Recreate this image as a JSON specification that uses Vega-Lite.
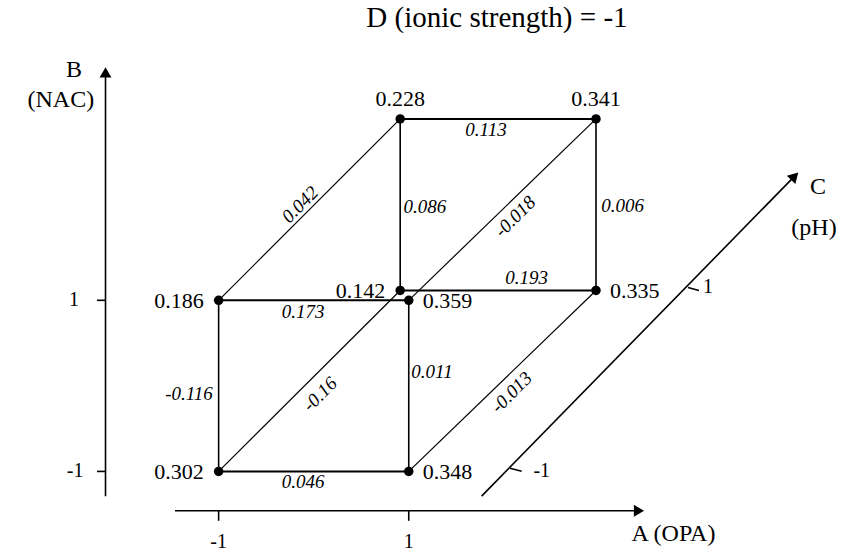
{
  "$schema": "https://vega.github.io/schema/vega-lite/v6.json",
  "width": 846,
  "height": 552,
  "padding": 0,
  "autosize": {"type": "fit", "contains": "padding"},
  "background": "white",
  "config": {"view": {"stroke": null}, "font": "'Liberation Serif', 'Times New Roman', serif"},
  "datasets": {
    "vertices": [
      {"A": -1, "B": -1, "C": -1, "u": -1, "v": -1, "response": "0.302"},
      {"A": 1, "B": -1, "C": -1, "u": 1, "v": -1, "response": "0.348"},
      {"A": -1, "B": 1, "C": -1, "u": -1, "v": 1, "response": "0.186"},
      {"A": 1, "B": 1, "C": -1, "u": 1, "v": 1, "response": "0.359"},
      {"A": -1, "B": -1, "C": 1, "u": 0.91, "v": 1.115, "response": "0.142"},
      {"A": 1, "B": -1, "C": 1, "u": 2.97, "v": 1.115, "response": "0.335"},
      {"A": -1, "B": 1, "C": 1, "u": 0.91, "v": 3.12, "response": "0.228"},
      {"A": 1, "B": 1, "C": 1, "u": 2.97, "v": 3.12, "response": "0.341"}
    ],
    "edges": [
      {"factor": "A", "u1": -1, "v1": -1, "u2": 1, "v2": -1, "effect": "0.046", "lu": -0.112, "lv": -1.125},
      {"factor": "A", "u1": -1, "v1": 1, "u2": 1, "v2": 1, "effect": "0.173", "lu": -0.112, "lv": 0.858},
      {"factor": "A", "u1": 0.91, "v1": 1.115, "u2": 2.97, "v2": 1.115, "effect": "0.193", "lu": 2.241, "lv": 1.263},
      {"factor": "A", "u1": 0.91, "v1": 3.12, "u2": 2.97, "v2": 3.12, "effect": "0.113", "lu": 1.813, "lv": 2.993},
      {"factor": "B", "u1": -1, "v1": -1, "u2": -1, "v2": 1, "effect": "-0.116", "lu": -1.312, "lv": -0.099},
      {"factor": "B", "u1": 1, "v1": -1, "u2": 1, "v2": 1, "effect": "0.011", "lu": 1.245, "lv": 0.158},
      {"factor": "B", "u1": 0.91, "v1": 1.115, "u2": 0.91, "v2": 3.12, "effect": "0.086", "lu": 1.171, "lv": 2.095},
      {"factor": "B", "u1": 2.97, "v1": 1.115, "u2": 2.97, "v2": 3.12, "effect": "0.006", "lu": 3.251, "lv": 2.098},
      {"factor": "C", "u1": -1, "v1": -1, "u2": 0.91, "v2": 1.115, "effect": "-0.16", "lu": 0.066, "lv": -0.099},
      {"factor": "C", "u1": 1, "v1": -1, "u2": 2.97, "v2": 1.115, "effect": "-0.013", "lu": 2.083, "lv": -0.075},
      {"factor": "C", "u1": -1, "v1": 1, "u2": 0.91, "v2": 3.12, "effect": "0.042", "lu": -0.144, "lv": 2.118},
      {"factor": "C", "u1": 1, "v1": 1, "u2": 2.97, "v2": 3.12, "effect": "-0.018", "lu": 2.118, "lv": 1.978}
    ],
    "axislines": [
      {"part": "B axis", "u1": -2.19, "v1": -1.289, "u2": -2.19, "v2": 3.635},
      {"part": "A axis", "u1": -1.459, "v1": -1.46, "u2": 3.39, "v2": -1.46},
      {"part": "C axis", "u1": 1.767, "v1": -1.289, "u2": 5.06, "v2": 2.452},
      {"part": "B tick 1", "u1": -2.28, "v1": 1, "u2": -2.19, "v2": 1},
      {"part": "B tick -1", "u1": -2.28, "v1": -1, "u2": -2.19, "v2": -1},
      {"part": "A tick -1", "u1": -1, "v1": -1.46, "u2": -1, "v2": -1.577},
      {"part": "A tick 1", "u1": 1, "v1": -1.46, "u2": 1, "v2": -1.577},
      {"part": "C tick -1", "u1": 2.065, "v1": -0.962, "u2": 2.188, "v2": -0.997},
      {"part": "C tick 1", "u1": 3.938, "v1": 1.15, "u2": 4.053, "v2": 1.115}
    ],
    "arrows": [
      {"axis": "B", "u": -2.19, "v": 3.664, "direction": 0},
      {"axis": "A", "u": 3.422, "v": -1.46, "direction": 90},
      {"axis": "C", "u": 5.06, "v": 2.452, "direction": 44}
    ],
    "ticklabels": [
      {"t": "1", "u": -2.522, "v": 1},
      {"t": "-1", "u": -2.51, "v": -1},
      {"t": "-1", "u": -1, "v": -1.825},
      {"t": "1", "u": 1, "v": -1.825},
      {"t": "-1", "u": 2.399, "v": -0.997},
      {"t": "1", "u": 4.148, "v": 1.15}
    ],
    "axisnames": [
      {"t": "B", "u": -2.522, "v": 3.693},
      {"t": "(NAC)", "u": -2.66, "v": 3.343},
      {"t": "A (OPA)", "u": 3.785, "v": -1.732},
      {"t": "C", "u": 5.305, "v": 2.328},
      {"t": "(pH)", "u": 5.263, "v": 1.85}
    ],
    "title": [
      {"t": "D (ionic strength) = -1", "u": 1.928, "v": 4.3}
    ]
  },
  "layer": [
    {
      "data": {"name": "axislines"},
      "mark": {"type": "rule", "color": "black", "strokeWidth": 1.6},
      "encoding": {
        "x": {"field": "u1", "type": "quantitative", "scale": {"domain": [-3.3, 5.6], "nice": false, "zero": false}, "axis": null},
        "y": {"field": "v1", "type": "quantitative", "scale": {"domain": [-1.93, 4.51], "nice": false, "zero": false}, "axis": null},
        "x2": {"field": "u2"},
        "y2": {"field": "v2"}
      }
    },
    {
      "data": {"name": "arrows"},
      "mark": {"type": "point", "shape": "triangle-up", "filled": true, "color": "black", "size": 140, "opacity": 1},
      "encoding": {
        "x": {"field": "u", "type": "quantitative", "scale": {"domain": [-3.3, 5.6], "nice": false, "zero": false}, "axis": null},
        "y": {"field": "v", "type": "quantitative", "scale": {"domain": [-1.93, 4.51], "nice": false, "zero": false}, "axis": null},
        "angle": {"field": "direction", "type": "quantitative", "scale": null}
      }
    },
    {
      "data": {"name": "edges"},
      "mark": {"type": "rule", "color": "black"},
      "encoding": {
        "x": {"field": "u1", "type": "quantitative", "scale": {"domain": [-3.3, 5.6], "nice": false, "zero": false}, "axis": null},
        "y": {"field": "v1", "type": "quantitative", "scale": {"domain": [-1.93, 4.51], "nice": false, "zero": false}, "axis": null},
        "x2": {"field": "u2"},
        "y2": {"field": "v2"},
        "strokeWidth": {"field": "factor", "type": "nominal", "scale": {"domain": ["A", "B", "C"], "range": [2, 1.2, 1.1]}, "legend": null}
      }
    },
    {
      "data": {"name": "edges"},
      "transform": [{"filter": "datum.factor !== 'C'"}],
      "mark": {"type": "text", "fontStyle": "italic", "fontSize": 19, "align": "center", "baseline": "middle", "color": "black"},
      "encoding": {
        "x": {"field": "lu", "type": "quantitative", "scale": {"domain": [-3.3, 5.6], "nice": false, "zero": false}, "axis": null},
        "y": {"field": "lv", "type": "quantitative", "scale": {"domain": [-1.93, 4.51], "nice": false, "zero": false}, "axis": null},
        "text": {"field": "effect", "type": "nominal"}
      }
    },
    {
      "data": {"name": "edges"},
      "transform": [{"filter": "datum.factor === 'C'"}],
      "mark": {"type": "text", "fontStyle": "italic", "fontSize": 19, "align": "center", "baseline": "middle", "angle": 315, "color": "black"},
      "encoding": {
        "x": {"field": "lu", "type": "quantitative", "scale": {"domain": [-3.3, 5.6], "nice": false, "zero": false}, "axis": null},
        "y": {"field": "lv", "type": "quantitative", "scale": {"domain": [-1.93, 4.51], "nice": false, "zero": false}, "axis": null},
        "text": {"field": "effect", "type": "nominal"}
      }
    },
    {
      "data": {"name": "vertices"},
      "mark": {"type": "circle", "color": "black", "size": 90, "opacity": 1},
      "encoding": {
        "x": {"field": "u", "type": "quantitative", "scale": {"domain": [-3.3, 5.6], "nice": false, "zero": false}, "axis": null},
        "y": {"field": "v", "type": "quantitative", "scale": {"domain": [-1.93, 4.51], "nice": false, "zero": false}, "axis": null}
      }
    },
    {
      "data": {"name": "vertices"},
      "transform": [{"filter": "datum.A === -1 && !(datum.B === 1 && datum.C === 1)"}],
      "mark": {"type": "text", "fontSize": 22, "align": "right", "baseline": "middle", "dx": -15, "dy": 1, "color": "black"},
      "encoding": {
        "x": {"field": "u", "type": "quantitative", "scale": {"domain": [-3.3, 5.6], "nice": false, "zero": false}, "axis": null},
        "y": {"field": "v", "type": "quantitative", "scale": {"domain": [-1.93, 4.51], "nice": false, "zero": false}, "axis": null},
        "text": {"field": "response", "type": "nominal"}
      }
    },
    {
      "data": {"name": "vertices"},
      "transform": [{"filter": "datum.A === 1 && !(datum.B === 1 && datum.C === 1)"}],
      "mark": {"type": "text", "fontSize": 22, "align": "left", "baseline": "middle", "dx": 14, "dy": 1, "color": "black"},
      "encoding": {
        "x": {"field": "u", "type": "quantitative", "scale": {"domain": [-3.3, 5.6], "nice": false, "zero": false}, "axis": null},
        "y": {"field": "v", "type": "quantitative", "scale": {"domain": [-1.93, 4.51], "nice": false, "zero": false}, "axis": null},
        "text": {"field": "response", "type": "nominal"}
      }
    },
    {
      "data": {"name": "vertices"},
      "transform": [{"filter": "datum.B === 1 && datum.C === 1"}],
      "mark": {"type": "text", "fontSize": 22, "align": "center", "baseline": "middle", "dy": -20, "color": "black"},
      "encoding": {
        "x": {"field": "u", "type": "quantitative", "scale": {"domain": [-3.3, 5.6], "nice": false, "zero": false}, "axis": null},
        "y": {"field": "v", "type": "quantitative", "scale": {"domain": [-1.93, 4.51], "nice": false, "zero": false}, "axis": null},
        "text": {"field": "response", "type": "nominal"}
      }
    },
    {
      "data": {"name": "ticklabels"},
      "mark": {"type": "text", "fontSize": 20, "align": "center", "baseline": "middle", "color": "black"},
      "encoding": {
        "x": {"field": "u", "type": "quantitative", "scale": {"domain": [-3.3, 5.6], "nice": false, "zero": false}, "axis": null},
        "y": {"field": "v", "type": "quantitative", "scale": {"domain": [-1.93, 4.51], "nice": false, "zero": false}, "axis": null},
        "text": {"field": "t", "type": "nominal"}
      }
    },
    {
      "data": {"name": "axisnames"},
      "mark": {"type": "text", "fontSize": 24, "align": "center", "baseline": "middle", "color": "black"},
      "encoding": {
        "x": {"field": "u", "type": "quantitative", "scale": {"domain": [-3.3, 5.6], "nice": false, "zero": false}, "axis": null},
        "y": {"field": "v", "type": "quantitative", "scale": {"domain": [-1.93, 4.51], "nice": false, "zero": false}, "axis": null},
        "text": {"field": "t", "type": "nominal"}
      }
    },
    {
      "data": {"name": "title"},
      "mark": {"type": "text", "fontSize": 29, "align": "center", "baseline": "middle", "color": "black"},
      "encoding": {
        "x": {"field": "u", "type": "quantitative", "scale": {"domain": [-3.3, 5.6], "nice": false, "zero": false}, "axis": null},
        "y": {"field": "v", "type": "quantitative", "scale": {"domain": [-1.93, 4.51], "nice": false, "zero": false}, "axis": null},
        "text": {"field": "t", "type": "nominal"}
      }
    }
  ]
}
